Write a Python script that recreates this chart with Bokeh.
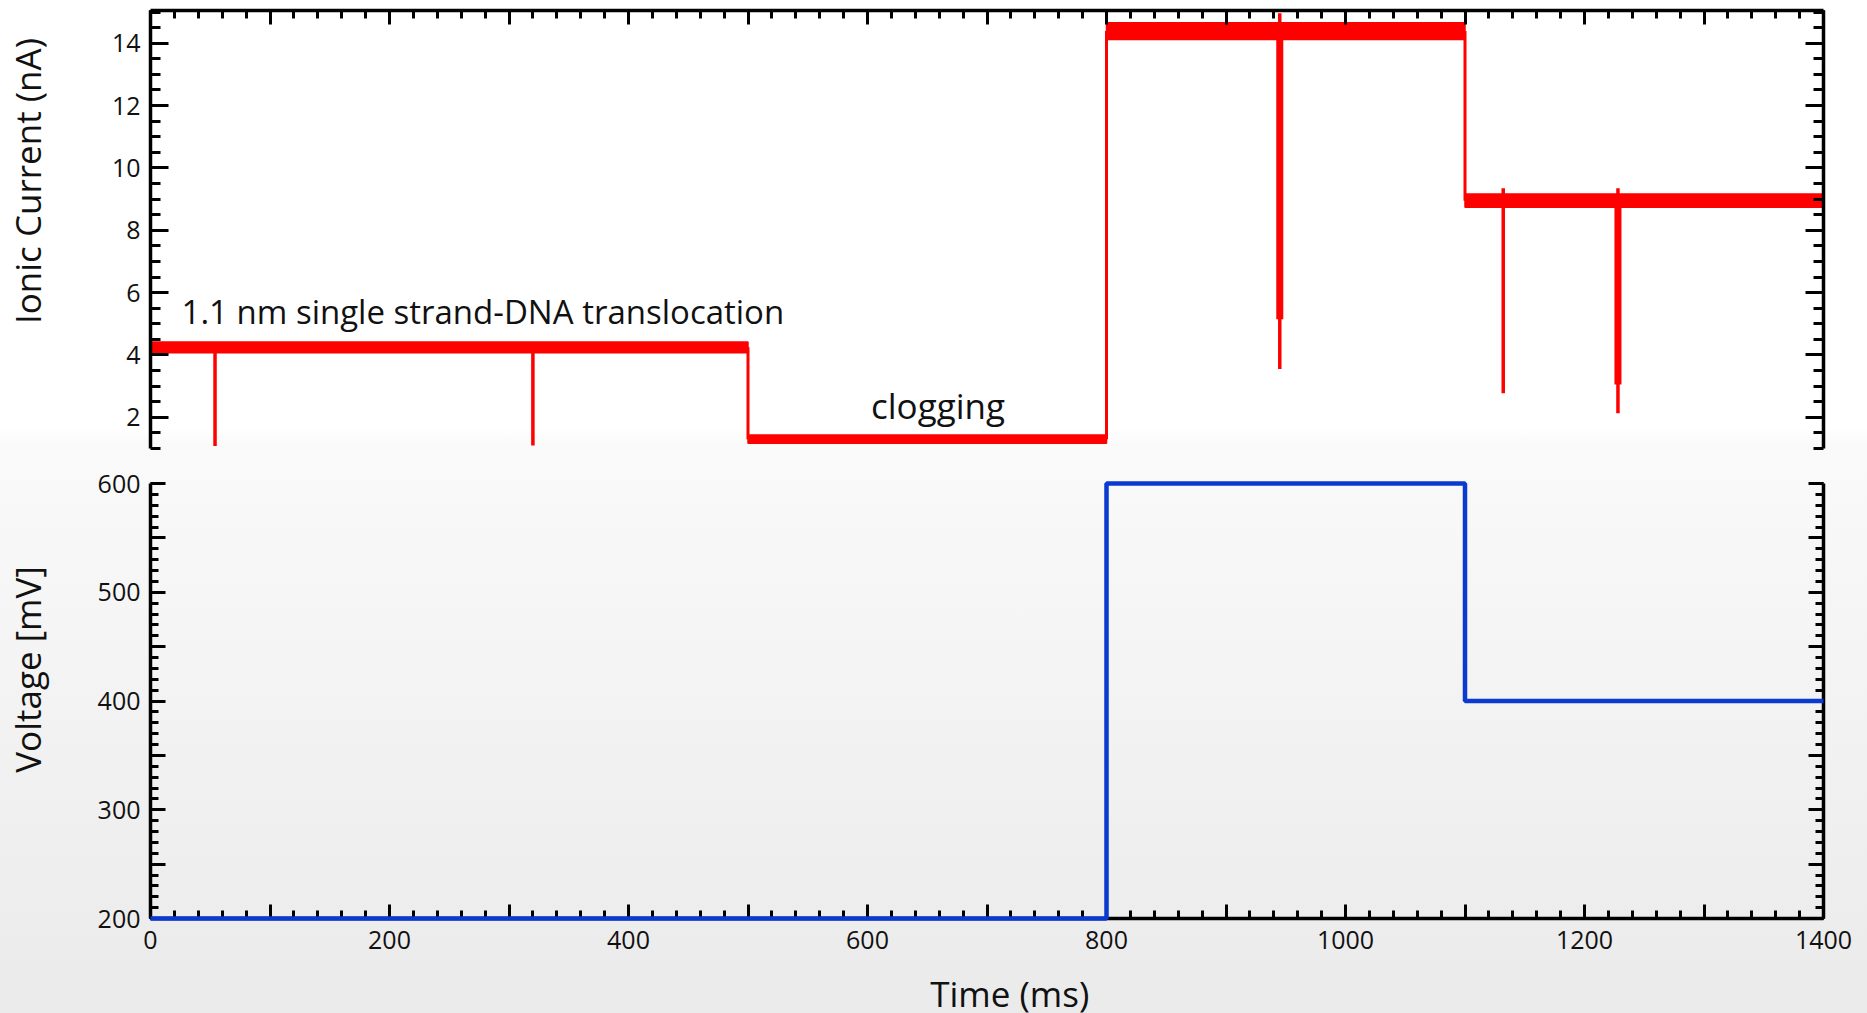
from bokeh.plotting import figure
from bokeh.models import (LinearAxis, FixedTicker, Range1d, ColumnDataSource,
                          CustomLabelingPolicy)
from bokeh.layouts import column
from bokeh.embed import file_html
from bokeh.resources import INLINE
from bokeh.core.properties import value

# ---------------- data ----------------
# ionic current: flat levels (noise envelope low / high, nA)
level_start = [0, 500, 800, 1100]
level_end = [500, 800, 1100, 1400]
level_low = [4.07, 1.17, 14.12, 8.74]
level_high = [4.42, 1.43, 14.66, 9.16]

# translocation events (spikes)
event_time = [54, 320, 945, 1132, 1228]
event_bottom = [1.08, 1.10, 3.55, 2.77, 2.13]
event_top = [4.42, 4.42, 14.96, 9.35, 9.35]
event_wide_time = [945, 1228]
event_wide_bottom = [5.15, 3.05]

# applied voltage (mV), step after each time
voltage_time = [0, 800, 1100, 1400]
voltage_value = [200, 600, 400, 400]

time_labels = [0, 200, 400, 600, 800, 1000, 1200, 1400]
current_labels = [2, 4, 6, 8, 10, 12, 14]
voltage_labels = [200, 300, 400, 500, 600]

FONT = "Open Sans"
RED = "#ff0000"
BLUE = "#0a3ad0"
INK = "#111111"

xr = Range1d(0, 1400)

hide_all = CustomLabelingPolicy(code="""
const all = Array.from(indices.ones());
for (const i of all) { indices.unset(i); }
return indices;
""")
keep_even = CustomLabelingPolicy(code="""
const all = Array.from(indices.ones());
for (const i of all) { if (i % 2 == 1) { indices.unset(i); } }
return indices;
""")


def style_axis(ax, major_in, minor_in, show_labels=True):
    ax.axis_line_width = 3.5
    ax.axis_line_color = "black"
    ax.major_tick_line_width = 3
    ax.minor_tick_line_width = 3
    ax.major_tick_line_color = "black"
    ax.minor_tick_line_color = "black"
    ax.major_tick_in = major_in
    ax.major_tick_out = 0
    ax.minor_tick_in = minor_in
    ax.minor_tick_out = 0
    ax.major_label_text_font = FONT
    ax.major_label_text_color = INK
    if show_labels:
        ax.major_label_text_font_size = "25px"
    else:
        ax.major_label_text_font_size = "1px"
        ax.major_label_standoff = 0
        ax.major_label_policy = hide_all


def title_axis(text, pos, standoff):
    # an axis used only to carry a title at a chosen place along the side
    return LinearAxis(ticker=FixedTicker(ticks=[pos], minor_ticks=[]),
                      major_label_overrides={pos: text},
                      major_label_orientation="parallel",
                      axis_line_color=None, major_tick_line_color=None,
                      minor_tick_line_color=None,
                      major_tick_in=0, major_tick_out=0, minor_tick_in=0, minor_tick_out=0,
                      major_label_standoff=standoff,
                      major_label_text_font=FONT, major_label_text_font_size="35px",
                      major_label_text_color=INK)


time_major = list(range(0, 1401, 100))
time_minor = list(range(0, 1401, 20))

cur_major = current_labels
cur_minor = [x / 2 for x in range(2, 31)]

volt_major = list(range(200, 601, 50))
volt_minor = list(range(200, 601, 10))

# ---------------- top: ionic current ----------------
p1 = figure(frame_width=1673, frame_height=438, x_range=xr, y_range=Range1d(1, 15.05),
            x_axis_location="above", output_backend="svg", toolbar_location=None,
            min_border_left=150, min_border_right=44, min_border_top=10, min_border_bottom=17)
p1.background_fill_alpha = 0
p1.border_fill_alpha = 0
p1.outline_line_color = None
p1.grid.visible = False

style_axis(p1.xaxis[0], 14, 8, show_labels=False)
p1.xaxis[0].ticker = FixedTicker(ticks=time_major, minor_ticks=time_minor)

ly = p1.yaxis[0]
style_axis(ly, 18, 10)
ly.ticker = FixedTicker(ticks=cur_major, minor_ticks=cur_minor)
ly.major_label_standoff = 10
p1.add_layout(title_axis("Ionic Current (nA)", 9.58, 57), "left")

ry = LinearAxis(ticker=FixedTicker(ticks=cur_major, minor_ticks=cur_minor))
style_axis(ry, 18, 10, show_labels=False)
p1.add_layout(ry, "right")

lev = ColumnDataSource(dict(left=level_start, right=level_end, bottom=level_low, top=level_high))
p1.quad(left="left", right="right", bottom="bottom", top="top", source=lev,
        fill_color=RED, line_color=RED, line_width=1.5)

mid = [(a + b) / 2 for a, b in zip(level_low, level_high)]
p1.segment(x0=level_start[1:], x1=level_start[1:], y0=mid[:-1], y1=mid[1:],
           line_color=RED, line_width=3)

p1.segment(x0=event_time, x1=event_time, y0=event_bottom, y1=event_top,
           line_color=RED, line_width=3.5)
wide_level = [mid[2], mid[3]]
p1.segment(x0=event_wide_time, x1=event_wide_time, y0=event_wide_bottom, y1=wide_level,
           line_color=RED, line_width=7)

p1.text(x=[26], y=[5.4], text=["1.1 nm single strand-DNA translocation"],
        text_font=value(FONT), text_font_size="33px", text_color=INK,
        text_align="left", text_baseline="alphabetic")
p1.text(x=[659], y=[2.38], text=["clogging"],
        text_font=value(FONT), text_font_size="35px", text_color=INK,
        text_align="center", text_baseline="alphabetic")

# ---------------- bottom: voltage ----------------
p2 = figure(frame_width=1673, frame_height=435, x_range=xr, y_range=Range1d(200, 600),
            output_backend="svg", toolbar_location=None,
            min_border_left=150, min_border_right=44, min_border_top=18, min_border_bottom=94)
p2.background_fill_alpha = 0
p2.border_fill_alpha = 0
p2.outline_line_color = None
p2.grid.visible = False

bx = p2.xaxis[0]
style_axis(bx, 14, 8)
bx.ticker = FixedTicker(ticks=time_major, minor_ticks=time_minor)
bx.major_label_policy = keep_even
bx.major_label_standoff = 12
bx.axis_label = "\u00a0" * 5 + "Time (ms)"
bx.axis_label_text_font = FONT
bx.axis_label_text_font_style = "normal"
bx.axis_label_text_font_size = "35px"
bx.axis_label_text_color = INK
bx.axis_label_standoff = 18

vy = p2.yaxis[0]
style_axis(vy, 15, 8)
vy.ticker = FixedTicker(ticks=volt_major, minor_ticks=volt_minor)
vy.major_label_policy = keep_even
vy.major_label_standoff = 10
p2.add_layout(title_axis("Voltage [mV]", 429, 43), "left")

vr = LinearAxis(ticker=FixedTicker(ticks=volt_major, minor_ticks=volt_minor))
style_axis(vr, 15, 8, show_labels=False)
p2.add_layout(vr, "right")

p2.step(x=voltage_time, y=voltage_value, mode="after", line_color=BLUE, line_width=4.5,
        level="overlay")

layout = column(p1, p2, spacing=0,
                styles={"background": "linear-gradient(to bottom, #ffffff 0%, #ffffff 42%, #fafafa 43.5%, #eaeaea 100%)"})

open("out.html", "w").write(file_html(layout, INLINE))
